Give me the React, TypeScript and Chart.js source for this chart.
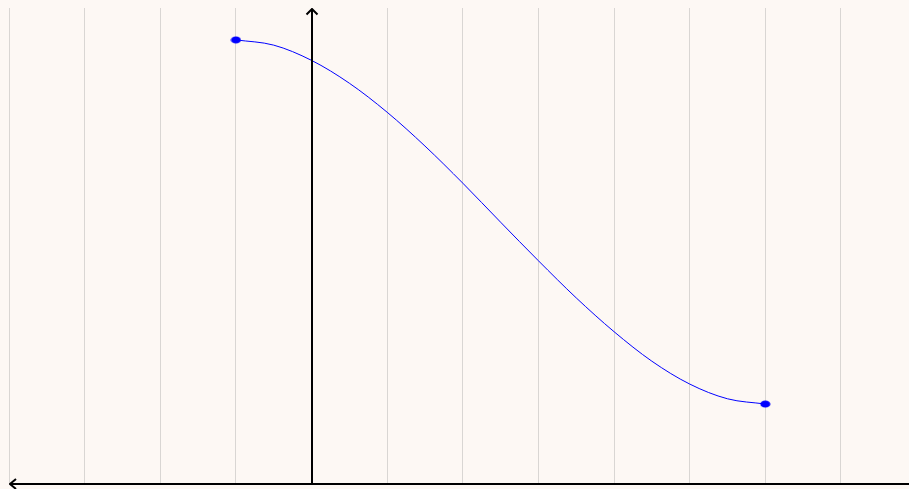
import React, { useEffect, useRef } from "react";
import { Chart, registerables } from "chart.js";

Chart.register(...registerables);

const xValues = [-1, -0.5, 0, 0.5, 1, 1.5, 2, 2.5, 3, 3.5, 4, 4.5, 5, 5.5, 6];
const yValues = [9.33, 9.22, 8.9, 8.42, 7.81, 7.1, 6.32, 5.5, 4.69, 3.91, 3.2, 2.58, 2.1, 1.79, 1.68];
const endX = [-1, 6];
const endY = [9.33, 1.68];

const BG = "#fdf8f4";

function makeDot(): HTMLCanvasElement {
  const c = document.createElement("canvas");
  c.width = 11;
  c.height = 8;
  const g = c.getContext("2d")!;
  g.fillStyle = "#0000ff";
  g.beginPath();
  g.ellipse(5.5, 4, 5, 3.6, 0, 0, Math.PI * 2);
  g.fill();
  return c;
}

const axesPlugin = {
  id: "arrowAxes",
  afterDatasetsDraw(chart: any) {
    const { ctx, chartArea, scales } = chart;
    const x0 = Math.round(scales.x.getPixelForValue(0));
    const top = chartArea.top;
    const bottom = chartArea.bottom;
    ctx.save();
    ctx.strokeStyle = "#000";
    ctx.lineWidth = 2;
    // y axis
    ctx.beginPath();
    ctx.moveTo(x0, bottom);
    ctx.lineTo(x0, top + 1);
    ctx.stroke();
    ctx.beginPath();
    ctx.moveTo(x0 - 5.5, top + 6.5);
    ctx.lineTo(x0, top + 1);
    ctx.lineTo(x0 + 5.5, top + 6.5);
    ctx.stroke();
    // x axis
    const left = chartArea.left + 1;
    ctx.beginPath();
    ctx.moveTo(left, bottom);
    ctx.lineTo(chart.width, bottom);
    ctx.stroke();
    ctx.beginPath();
    ctx.moveTo(left + 6, bottom - 5);
    ctx.lineTo(left, bottom);
    ctx.lineTo(left + 6, bottom + 5);
    ctx.stroke();
    ctx.restore();
  },
};

export default function App() {
  const ref = useRef<HTMLCanvasElement>(null);
  useEffect(() => {
    if (!ref.current) return;
    const dot = makeDot();
    const chart = new Chart(ref.current, {
      type: "line",
      data: {
        datasets: [
          {
            data: xValues.map((x, i) => ({ x, y: yValues[i] })),
            borderColor: "#0000ff",
            borderWidth: 1,
            pointRadius: 0,
            cubicInterpolationMode: "monotone",
            fill: false,
          },
          {
            data: endX.map((x, i) => ({ x, y: endY[i] })),
            showLine: false,
            pointStyle: dot as any,
            pointRadius: 5,
            borderColor: "#0000ff",
            backgroundColor: "#0000ff",
          },
        ],
      },
      options: {
        responsive: false,
        animation: false,
        layout: { autoPadding: false, padding: { top: 0, left: 0, right: 0, bottom: 5 } },
        plugins: { legend: { display: false }, tooltip: { enabled: false } },
        scales: {
          x: {
            type: "linear",
            min: -4,
            max: 7.9,
            ticks: { display: false, stepSize: 1 },
            afterBuildTicks: (axis: any) => {
              axis.ticks = axis.ticks.filter((t: any) => Number.isInteger(t.value));
            },
            grid: { color: "#d9d6d3", lineWidth: 1, drawTicks: false },
            border: { display: false },
          },
          y: {
            display: false,
            min: 0,
            max: 10,
          },
        },
      },
      plugins: [axesPlugin],
    });
    return () => chart.destroy();
  }, []);
  return (
    <div
      style={{
        position: "fixed",
        left: 0,
        top: 0,
        width: "909px",
        height: "489px",
        overflow: "hidden",
        background: BG,
      }}
    >
      <canvas
        ref={ref}
        width={900}
        height={481}
        style={{ position: "absolute", left: "9px", top: "8px", display: "block" }}
      />
    </div>
  );
}
